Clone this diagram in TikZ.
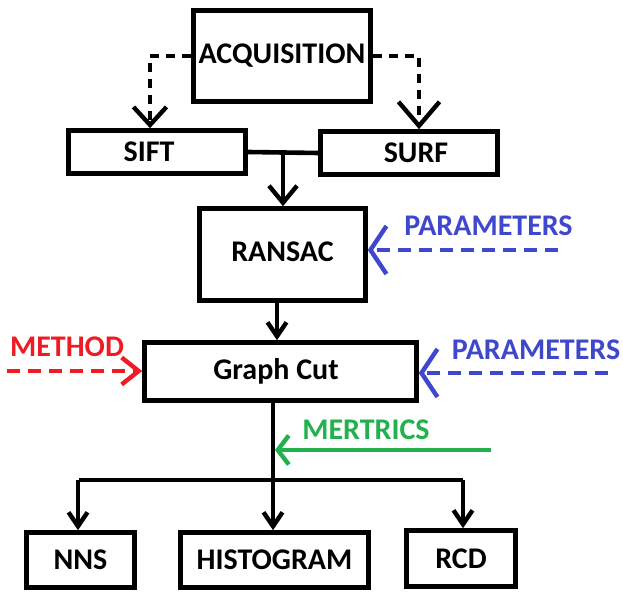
\documentclass[tikz,border=0pt]{standalone}
\usepackage{fontspec}
\setmainfont{Carlito}
\usetikzlibrary{arrows.meta}
\definecolor{pblue}{HTML}{3F48CC}
\definecolor{pred}{HTML}{ED1C24}
\definecolor{pgreen}{HTML}{22B14C}
\tikzset{
  x=1pt,y=-1pt,
  box/.style={draw,line width=4.6pt,inner sep=0pt,font=\bfseries\fontsize{30}{30}\selectfont},
  lbl/.style={inner sep=0pt,font=\bfseries\fontsize{30}{30}\selectfont},
  conn/.style={line width=4.6pt},
  dsh/.style={line width=4.6pt,dash pattern=on 9pt off 7pt},
  bdsh/.style={line width=4.4pt,dash pattern=on 13pt off 8pt},
  tipA/.style={-{Straight Barb[length=18pt,width=33pt,line width=4.4pt]}},
  tipB/.style={-{Straight Barb[length=24pt,width=41pt,line width=4.4pt]}},
  tipC/.style={-{Straight Barb[length=17pt,width=28pt,line width=4.4pt]}},
  smalltip/.style={-{Straight Barb[length=14pt,width=19pt,line width=4.4pt]}},
  sidetip/.style={-{Straight Barb[length=16pt,width=48pt,line width=4.4pt]}},
  redtip/.style={-{Straight Barb[length=17pt,width=27pt,line width=4.4pt]}},
  greentip/.style={-{Straight Barb[length=11pt,width=29pt,line width=4.4pt]}},
}
\begin{document}
\begin{tikzpicture}
\useasboundingbox (0,0) rectangle (623,593);
\node[box,minimum width=177pt,minimum height=91pt] (acq) at (282,56) {ACQUISITION};
\node[box,minimum width=177pt,minimum height=43pt] (sift) at (157,152) {\hspace*{-16pt}SIFT};
\node[box,minimum width=177pt,minimum height=43pt] (surf) at (409,153) {\hspace*{14pt}SURF};
\node[box,minimum width=166pt,minimum height=92pt] (ransac) at (282.5,254.5) {\raisebox{5pt}{RANSAC}};
\node[box,minimum width=272pt,minimum height=58pt] (gc) at (280.5,371.5) {\hspace*{-9pt}Graph Cut};
\node[box,minimum width=108pt,minimum height=55pt] (nns) at (80.5,560) {NNS};
\node[box,minimum width=188pt,minimum height=55pt] (hist) at (274.5,560) {HISTOGRAM};
\node[box,minimum width=109pt,minimum height=56pt] (rcd) at (461,558.5) {RCD};
\node[lbl,text=pblue] (par1) at (488.5,226) {PARAMETERS};
\node[lbl,text=pblue] (par2) at (536,350) {PARAMETERS};
\node[lbl,text=pred] (meth) at (67,347) {METHOD};
\node[lbl,text=pgreen] (met) at (366,430) {MERTRICS};
\coordinate (p1) at (558,250);
\coordinate (p2) at (608,373);
\coordinate (m) at (7,371);
\coordinate (g) at (491,450);
\coordinate (j) at (273,480);
\coordinate (k) at (283,152);
% dashed from acquisition
\draw[dsh,tipA] (acq.west) -| ([xshift=-7pt]sift.north);
\draw[dsh,tipB] (acq.east) -| ([xshift=10pt]surf.north);
% sift/surf to ransac
\draw[conn] (sift.east) -- (surf.west);
\draw[conn,tipC] (k) -- (k |- ransac.north);
\draw[conn,smalltip] ([xshift=-5.5pt]ransac.south) -- ([xshift=-5.5pt]ransac.south |- gc.north);
% side inputs
\draw[bdsh,pblue,sidetip] (p1) -- (ransac.east |- p1);
\draw[bdsh,pblue,sidetip] (p2) -- (gc.east |- p2);
\draw[bdsh,pred,redtip] (m) -- (gc.west |- m);
% graph cut to outputs
\draw[conn] (j |- gc.south) -- (j);
\draw[conn] ([xshift=-2pt]nns.north |- j) -- (rcd.north |- j) -- ([xshift=2pt]rcd.north |- j);
\draw[conn,smalltip] ([xshift=-2.5pt]nns.north |- j) -- ([xshift=-2.5pt]nns.north);
\draw[conn,smalltip] (j) -- (j |- hist.north);
\draw[conn,smalltip] ([xshift=2pt]rcd.north |- j) -- ([xshift=2pt]rcd.north);
\draw[conn,pgreen,greentip] (g) -- ([xshift=2pt]j |- g);
\end{tikzpicture}
\end{document}
